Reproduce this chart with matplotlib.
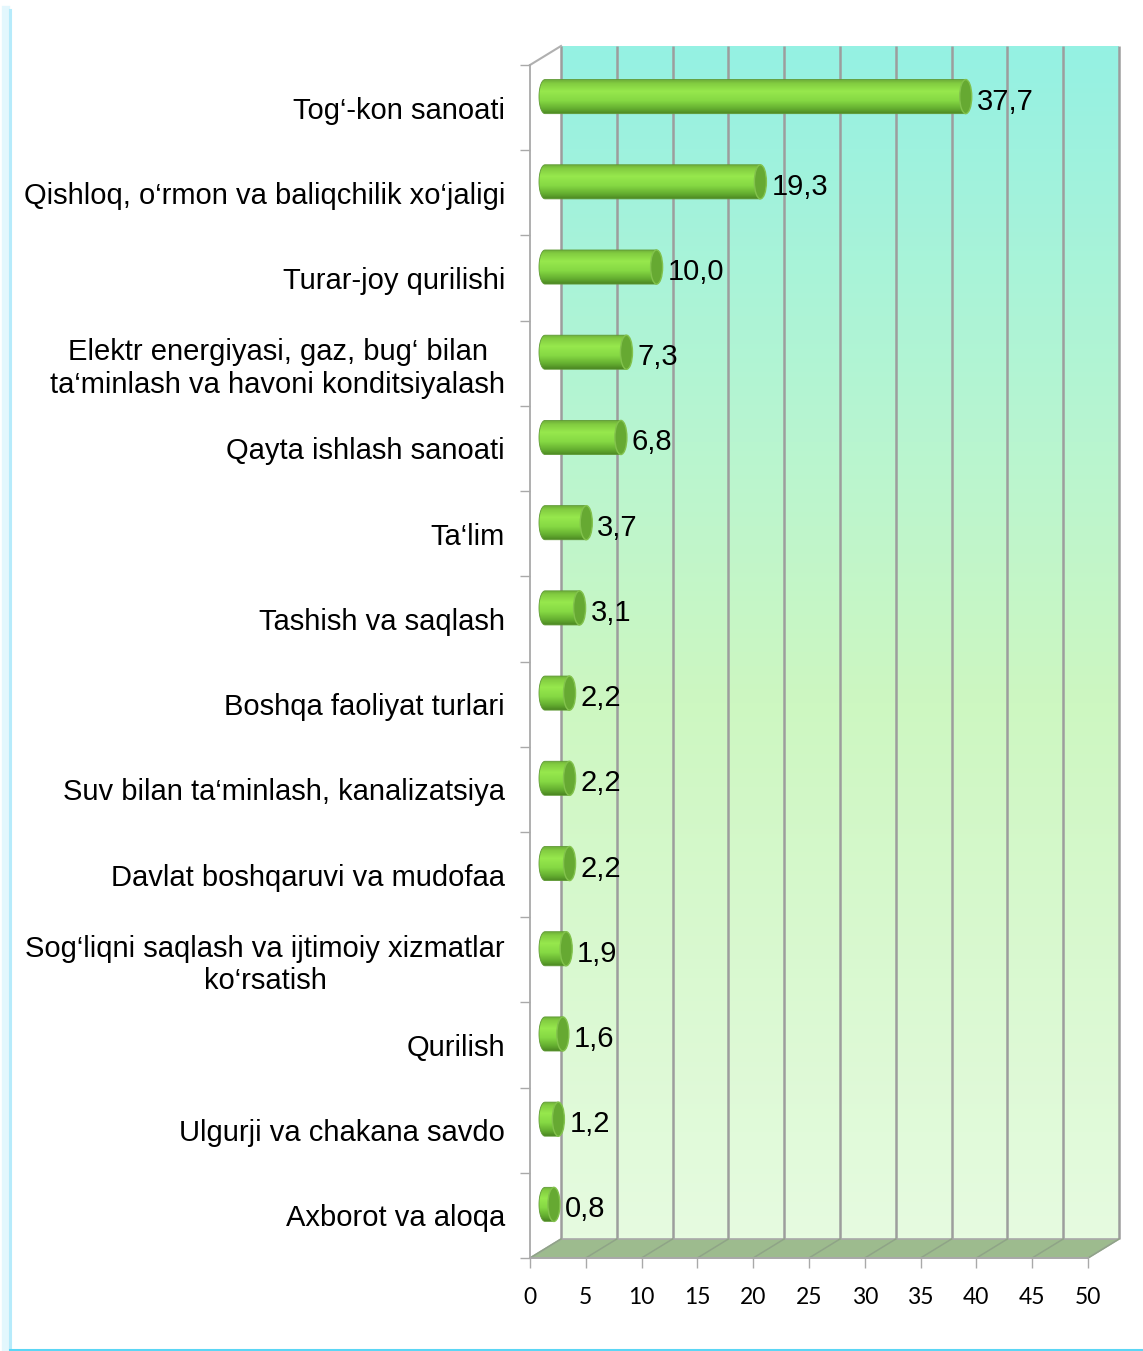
import numpy as np
import matplotlib
matplotlib.use('Agg')
import matplotlib.pyplot as plt
from matplotlib import transforms
from matplotlib.patches import Ellipse, Polygon
from matplotlib.colors import LinearSegmentedColormap

categories = [
    "Tog\u2018-kon sanoati",
    "Qishloq, o\u2018rmon va baliqchilik xo\u2018jaligi",
    "Turar-joy qurilishi",
    "Elektr energiyasi, gaz, bug\u2018 bilan\nta\u2018minlash va havoni konditsiyalash",
    "Qayta ishlash sanoati",
    "Ta\u2018lim",
    "Tashish va saqlash",
    "Boshqa faoliyat turlari",
    "Suv bilan ta\u2018minlash, kanalizatsiya",
    "Davlat boshqaruvi va mudofaa",
    "Sog\u2018liqni saqlash va ijtimoiy xizmatlar\nko\u2018rsatish",
    "Qurilish",
    "Ulgurji va chakana savdo",
    "Axborot va aloqa",
]
values = [37.7, 19.3, 10.0, 7.3, 6.8, 3.7, 3.1, 2.2, 2.2, 2.2, 1.9, 1.6, 1.2, 0.8]
x_ticks = [0, 5, 10, 15, 20, 25, 30, 35, 40, 45, 50]

W, H = 1143, 1351
fig = plt.figure(figsize=(W / 100, H / 100), dpi=100)
fig.patch.set_facecolor('white')
ax = fig.add_axes([530 / W, 1 - 1258 / H, 558 / W, 1193 / H])
ax.set_facecolor('none')
n = len(categories)
xmax = x_ticks[-1]
ax.set_xlim(0, xmax)
ax.set_ylim(n - 0.5, -0.5)

# 3d look: back wall and bar depth are pixel shifts of the data transform
back = transforms.offset_copy(ax.transData, fig=fig, x=31, y=19, units='dots')
mid = transforms.offset_copy(ax.transData, fig=fig, x=15, y=11, units='dots')
inv = ax.transData.inverted()
bx, by = inv.transform(back.transform((0, n - 0.5)))
ddx, ddy = bx, by - (n - 0.5)
px_x = ax.transData.transform((1, 0))[0] - ax.transData.transform((0, 0))[0]

grid_col = '#9d9d9d'

# back wall with gradient
wall_cmap = LinearSegmentedColormap.from_list(
    'wall', [(0, '#95f1e3'), (0.33, '#b8f5d0'), (0.55, '#cdf7c1'), (1, '#e6fbe0')])
grad = np.linspace(0, 1, 256).reshape(-1, 1)
ax.imshow(grad, cmap=wall_cmap, extent=[0, xmax, n - 0.5, -0.5], origin='upper',
          aspect='auto', transform=back, zorder=0, clip_on=False)
ax.vlines(x_ticks, -0.5, n - 0.5, transform=back, colors=grid_col, lw=1.8,
          zorder=1, clip_on=False)

# floor
yb = n - 0.5
floor = Polygon([(0, yb), (xmax, yb), (xmax + ddx, yb + ddy), (ddx, yb + ddy)],
                closed=True, facecolor='#9dbb8e', edgecolor='#a9a9a9', lw=1.2,
                zorder=1.5, clip_on=False)
ax.add_patch(floor)
for t in x_ticks:
    ax.plot([t, t + ddx], [yb, yb + ddy], color='#8fa487', lw=1.1, zorder=1.6, clip_on=False)

# top-left diagonal edge
ax.plot([0, ddx], [-0.5, -0.5 + ddy], color='#b0b0b0', lw=1.5, zorder=1.6, clip_on=False)

# cylinders
cyl_cmap = LinearSegmentedColormap.from_list(
    'cyl', [(0, '#6aa838'), (0.12, '#82cc40'), (0.35, '#97e84d'), (0.62, '#85d843'),
            (0.85, '#64ae30'), (1, '#4b8622')])
bar_h = 0.40
cap_px = 6
rx = cap_px / px_x
theta = np.linspace(np.pi / 2, 3 * np.pi / 2, 40)
for i, v in enumerate(values):
    arc = np.column_stack([rx * np.cos(theta), i - bar_h / 2 * np.sin(theta)])
    verts = np.vstack([[v, i - bar_h / 2], arc, [v, i + bar_h / 2]])
    body = Polygon(verts, closed=True, transform=mid, facecolor='none',
                   edgecolor='#5f9a35', lw=0.6, zorder=3.1)
    ax.add_patch(body)
    im = ax.imshow(grad, cmap=cyl_cmap, extent=[-rx, v, i + bar_h / 2, i - bar_h / 2],
                   origin='upper', aspect='auto', transform=mid, zorder=3)
    im.set_clip_path(body)
    cap = Ellipse((v, i), 2 * rx, bar_h, transform=mid, facecolor='#66a932',
                  edgecolor='#82c24c', lw=1.0, zorder=3.2)
    ax.add_patch(cap)
    ax.annotate(f'{v:.1f}'.replace('.', ','), xy=(v, i), xycoords=mid,
                xytext=(cap_px + 5, -5), textcoords='offset pixels', ha='left',
                va='center', fontsize=21, fontfamily='Liberation Sans', zorder=5,
                annotation_clip=False)

ax.set_xlim(0, xmax)
ax.set_ylim(n - 0.5, -0.5)

# axes and ticks
for s in ['top', 'right']:
    ax.spines[s].set_visible(False)
for s in ['left', 'bottom']:
    ax.spines[s].set_color('#a9a9a9')
    ax.spines[s].set_linewidth(1.3)
    ax.spines[s].set_zorder(2)

ax.set_yticks(range(n))
ax.set_yticklabels(categories, fontsize=21, fontfamily='Liberation Sans')
ax.set_yticks(np.arange(n + 1) - 0.5, minor=True)
ax.tick_params(axis='y', which='major', length=0, pad=18)
ax.tick_params(axis='y', which='minor', length=7.2, color='#a9a9a9', width=1)
for lbl in ax.get_yticklabels():
    lbl.set_multialignment('center')
    lbl.set_linespacing(1.2)

ax.set_xticks(x_ticks)
ax.set_xticklabels([str(t) for t in x_ticks], fontsize=16.5, fontfamily='Lato')
ax.tick_params(axis='x', length=7.2, color='#a9a9a9', width=1, pad=14)

# blue frame of the picture
fig.add_artist(plt.Line2D([6 / W, 6 / W], [2 / H, 1 - 10 / H], color='#e3f7fd', lw=6))
fig.add_artist(plt.Line2D([10 / W, 10 / W], [2 / H, 1 - 10 / H], color='#b6ebfb', lw=2.2))
fig.add_artist(plt.Line2D([10 / W, 1], [1.5 / H, 1.5 / H], color='#5bd6f5', lw=2.2))

fig.savefig('out.png', dpi=100)
